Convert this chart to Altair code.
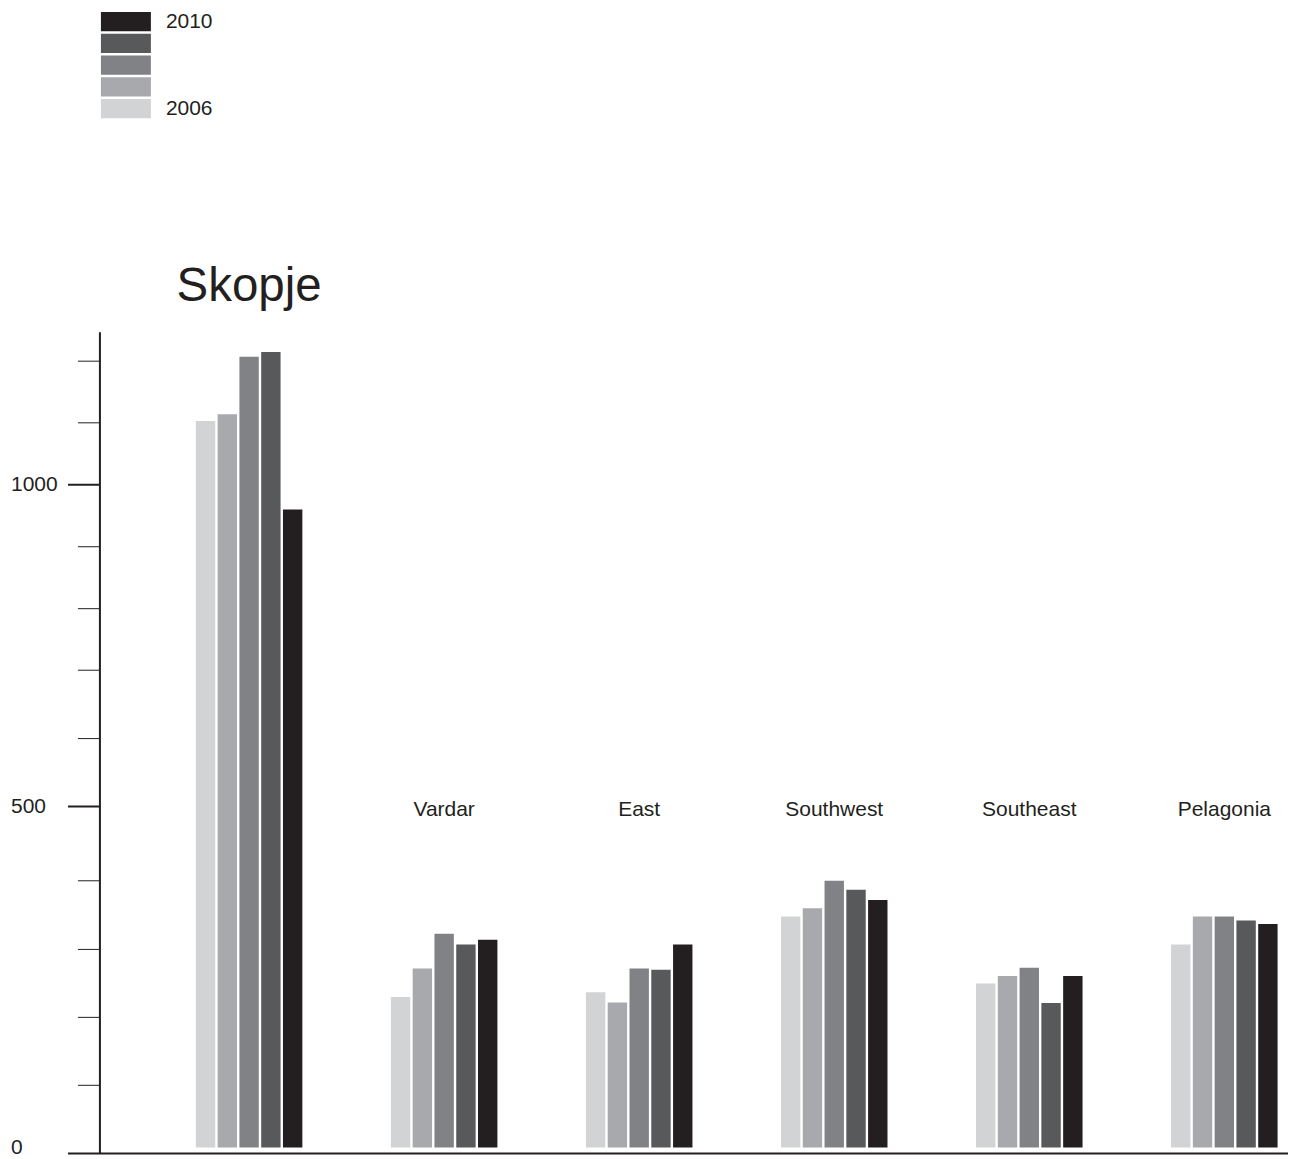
import altair as alt
import pandas as pd

# ---- data ----
regions = ["Skopje", "Vardar", "East", "Southwest", "Southeast", "Pelagonia"]
years = ["2006", "2007", "2008", "2009", "2010"]
v2006 = [1103, 230, 237, 348, 250, 307]
v2007 = [1114, 272, 222, 360, 261, 348]
v2008 = [1207, 323, 272, 400, 273, 348]
v2009 = [1215, 307, 270, 387, 221, 342]
v2010 = [960, 314, 307, 372, 261, 337]
series = [v2006, v2007, v2008, v2009, v2010]

minor_ticks = [100, 200, 300, 400, 600, 700, 800, 900, 1100, 1200]
major_ticks = [500, 1000]
tick_labels = [0, 500, 1000]
legend_labels = ["2010", "2006"]

shades = ["#d1d3d4", "#a7a9ac", "#808285", "#58595b", "#231f20"]
ink = "#231f20"
font = "Liberation Sans"

rows = []
for y, vals in zip(years, series):
    for r, v in zip(regions, vals):
        rows.append({"region": r, "year": y, "value": v})
df = pd.DataFrame(rows)

W = 1189
H = 816

# the printed axis is not evenly spaced; follow its tick positions
y_domain = [0, 100, 200, 300, 400, 500, 600, 700, 800, 900, 1000, 1100, 1200]
y_range = [816, 753.7, 685.7, 617.7, 549, 474.7, 406.7, 338.3, 276.7, 214.7, 152.7, 90.7, 29]
y_scale = alt.Scale(domain=y_domain, range=y_range, zero=False, nice=False)
x_scale = alt.Scale(domain=regions, paddingInner=0.4539, paddingOuter=0.2726, align=0.902)
color_scale = alt.Scale(domain=years, range=shades)

bars = alt.Chart(df).mark_bar(stroke=None).encode(
    x=alt.X("region:N", scale=x_scale, axis=None, sort=regions),
    xOffset=alt.XOffset("year:N", scale=alt.Scale(domain=years, paddingInner=0.11, paddingOuter=0)),
    y=alt.Y("value:Q", scale=y_scale, axis=None),
    y2=alt.datum(0),
    color=alt.Color("year:N", scale=color_scale, legend=None),
)

minor = alt.Chart(pd.DataFrame({"v": minor_ticks})).mark_rule(color=ink, strokeWidth=1).encode(
    y=alt.Y("v:Q", scale=y_scale, axis=None), x=alt.value(-22), x2=alt.value(0)
)
major = alt.Chart(pd.DataFrame({"v": major_ticks})).mark_rule(color=ink, strokeWidth=2).encode(
    y=alt.Y("v:Q", scale=y_scale, axis=None), x=alt.value(-32), x2=alt.value(0)
)
y_line = alt.Chart(pd.DataFrame({"a": [0]})).mark_rule(color=ink, strokeWidth=2).encode(
    x=alt.value(0), y=alt.value(0), y2=alt.value(H + 6)
)
x_line = alt.Chart(pd.DataFrame({"a": [0]})).mark_rule(color=ink, strokeWidth=2).encode(
    x=alt.value(-32), x2=alt.value(W), y=alt.value(H + 6)
)
ylabels = alt.Chart(pd.DataFrame({"v": tick_labels})).mark_text(
    align="left", baseline="middle", fontSize=21, font=font, color=ink
).encode(
    y=alt.Y("v:Q", scale=y_scale, axis=None), x=alt.value(-89), text="v:Q"
)
region_labels = alt.Chart(pd.DataFrame({"region": regions[1:]})).mark_text(
    align="center", baseline="alphabetic", fontSize=21, font=font, color=ink, dy=9
).encode(
    x=alt.X("region:N", scale=x_scale, axis=None, sort=regions),
    y=alt.datum(500),
    text="region:N",
)
title_label = alt.Chart(pd.DataFrame({"region": regions[:1]})).mark_text(
    align="center", baseline="alphabetic", fontSize=47.5, font=font, color=ink
).encode(
    x=alt.X("region:N", scale=x_scale, axis=None, sort=regions),
    y=alt.value(-31),
    text="region:N",
)

main = alt.layer(
    bars, minor, major, y_line, x_line, ylabels, region_labels, title_label
).properties(width=W, height=H)

leg_y = alt.Y("year:N", scale=alt.Scale(domain=years[::-1], paddingInner=0.11, paddingOuter=0), axis=None)
leg_rect = alt.Chart(pd.DataFrame({"year": years})).mark_rect().encode(
    y=leg_y,
    x=alt.value(1),
    x2=alt.value(51),
    color=alt.Color("year:N", scale=color_scale, legend=None),
)
leg_text = alt.Chart(pd.DataFrame({"year": legend_labels})).mark_text(
    align="left", baseline="middle", fontSize=21, font=font, color=ink
).encode(
    y=leg_y, x=alt.value(66), text="year:N"
)
legend = alt.layer(leg_rect, leg_text).properties(width=120, height=106.4)

chart = alt.vconcat(legend, main, spacing=144.5).resolve_scale(
    x="independent", y="independent", color="shared"
).properties(
    padding={"left": 3, "top": 1.5, "right": 0, "bottom": 0}
).configure_view(strokeWidth=0)

chart.save("out.html", embed_options={"renderer": "svg", "actions": False})
